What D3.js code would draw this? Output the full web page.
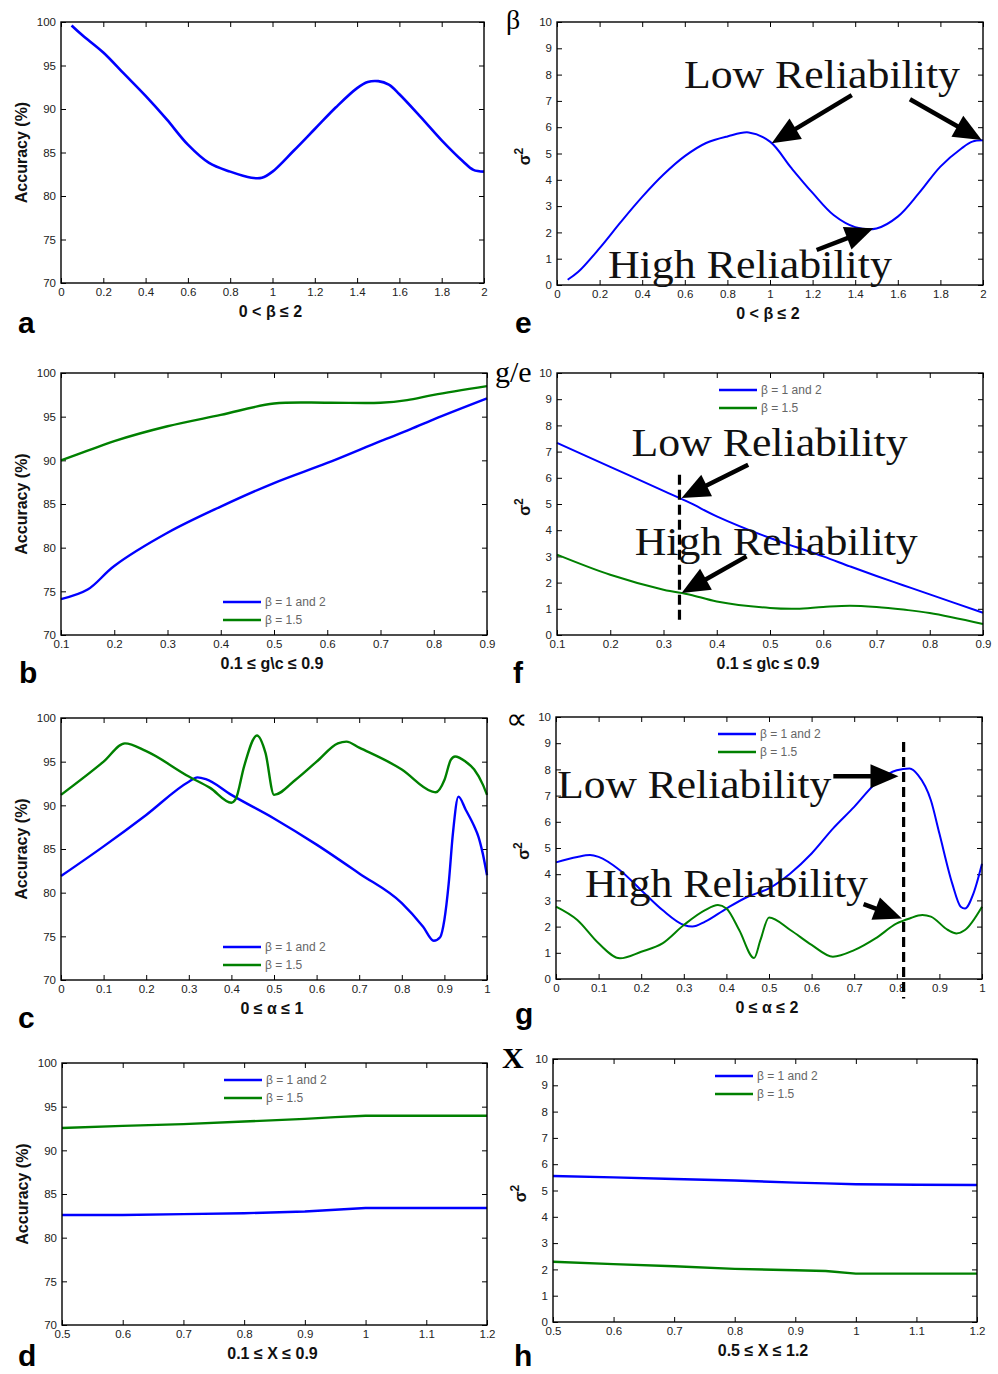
<!DOCTYPE html>
<html>
<head>
<meta charset="utf-8">
<script src="https://cdn.jsdelivr.net/npm/d3@7"></script>
<style>
  body { margin: 0; background: #fff; }
  .axis text { font-family: "Liberation Sans", Arial, sans-serif; font-size: 11.5px; fill: #222; }
  .axis line { stroke: #000; stroke-width: 1; }
  .axis_label { font-family: "Liberation Sans", Arial, sans-serif; font-weight: bold; font-size: 16px; fill: #111; }
  .panel_letter { font-family: "Liberation Sans", Arial, sans-serif; font-weight: bold; font-size: 30px; fill: #000; }
  .note { font-family: "Liberation Serif", "Times New Roman", serif; font-size: 40px; fill: #111; }
  .legend_label { font-family: "Liberation Sans", Arial, sans-serif; font-size: 12px; fill: #666; }
  .corner { font-family: "Liberation Serif", "Times New Roman", serif; fill: #000; }
</style>
</head>
<body>
<div id="chart"></div>
<script>
var width = 998;
var height = 1374;
var blue = "#0000ff";
var green = "#008000";

// tick values
var accTicks = [70, 75, 80, 85, 90, 95, 100];
var sigTicks = [0, 1, 2, 3, 4, 5, 6, 7, 8, 9, 10];
var betaTicks = [0, 0.2, 0.4, 0.6, 0.8, 1, 1.2, 1.4, 1.6, 1.8, 2];
var gcTicks = [0.1, 0.2, 0.3, 0.4, 0.5, 0.6, 0.7, 0.8, 0.9];
var alphaTicks = [0, 0.1, 0.2, 0.3, 0.4, 0.5, 0.6, 0.7, 0.8, 0.9, 1];
var xxTicks = [0.5, 0.6, 0.7, 0.8, 0.9, 1, 1.1, 1.2];

var legendNames = ["\u03b2 = 1 and 2", "\u03b2 = 1.5"];

// a : accuracy vs beta
var aX = [0.05, 0.1, 0.2, 0.3, 0.4, 0.5, 0.6, 0.7, 0.8, 0.9, 0.95, 1.0, 1.1, 1.2, 1.3, 1.4, 1.45, 1.5, 1.55, 1.6, 1.7, 1.8, 1.9, 1.95, 2.0];
var aBlue = [99.6, 98.5, 96.5, 94.0, 91.5, 88.8, 85.9, 83.8, 82.8, 82.1, 82.1, 82.8, 85.2, 87.7, 90.2, 92.4, 93.1, 93.2, 92.8, 91.7, 89.1, 86.4, 84.0, 83.0, 82.8];

// e : variance vs beta
var eX = [0.05, 0.1, 0.2, 0.3, 0.4, 0.5, 0.6, 0.7, 0.8, 0.9, 1.0, 1.1, 1.2, 1.3, 1.4, 1.5, 1.6, 1.7, 1.8, 1.9, 1.95, 2.0];
var eBlue = [0.2, 0.5, 1.4, 2.4, 3.35, 4.2, 4.9, 5.4, 5.65, 5.8, 5.45, 4.45, 3.5, 2.65, 2.2, 2.15, 2.6, 3.5, 4.5, 5.2, 5.45, 5.5];

// b : accuracy vs g\c
var bX = [0.1, 0.15, 0.2, 0.3, 0.4, 0.5, 0.6, 0.7, 0.75, 0.8, 0.9];
var bBlue = [74.1, 75.2, 77.9, 81.7, 84.7, 87.4, 89.7, 92.2, 93.4, 94.7, 97.1];
var bGreen = [90.0, 91.1, 92.2, 93.9, 95.2, 96.5, 96.6, 96.6, 96.9, 97.5, 98.5];

// f : variance vs g\c
var fX = [0.1, 0.2, 0.3, 0.35, 0.4, 0.5, 0.55, 0.6, 0.65, 0.7, 0.75, 0.8, 0.9];
var fBlue = [7.33, 6.42, 5.5, 5.04, 4.53, 3.7, 3.35, 3.0, 2.62, 2.25, 1.9, 1.55, 0.85];
var fGreen = [3.07, 2.3, 1.73, 1.54, 1.28, 1.03, 1.0, 1.07, 1.12, 1.07, 0.97, 0.84, 0.42];

// c : accuracy vs alpha
var cBlueX = [0, 0.1, 0.2, 0.3, 0.32, 0.34, 0.4, 0.5, 0.6, 0.7, 0.8, 0.85, 0.875, 0.89, 0.9, 0.91, 0.92, 0.933, 0.95, 0.97, 0.98, 0.99, 1.0];
var cBlue = [81.9, 85.3, 88.9, 92.7, 93.2, 93.0, 91.2, 88.5, 85.5, 82.2, 78.8, 76.1, 74.5, 74.9, 76.9, 81.0, 86.8, 91.0, 89.5, 87.6, 86.4, 84.5, 82.0];
var cGreenX = [0, 0.1, 0.15, 0.2, 0.3, 0.35, 0.4, 0.41, 0.43, 0.46, 0.48, 0.5, 0.55, 0.6, 0.65, 0.67, 0.7, 0.8, 0.87, 0.88, 0.9, 0.915, 0.925, 0.95, 0.97, 0.99, 1.0];
var cGreen = [91.2, 95.0, 97.1, 96.2, 93.3, 92.0, 90.3, 90.7, 94.5, 98.0, 96.0, 91.2, 92.9, 95.0, 97.1, 97.3, 96.6, 94.1, 91.6, 91.5, 92.9, 95.2, 95.6, 95.0, 94.1, 92.4, 91.2];

// g : variance vs alpha
var gBlueX = [0, 0.05, 0.08, 0.1, 0.15, 0.2, 0.25, 0.3, 0.32, 0.35, 0.4, 0.45, 0.5, 0.55, 0.6, 0.65, 0.7, 0.75, 0.8, 0.83, 0.85, 0.88, 0.9, 0.93, 0.95, 0.96, 0.98, 1.0];
var gBlue = [4.45, 4.66, 4.73, 4.66, 4.15, 3.39, 2.63, 2.06, 2.0, 2.19, 2.69, 3.14, 3.46, 4.03, 4.79, 5.74, 6.57, 7.46, 7.97, 8.03, 7.78, 6.82, 5.55, 3.65, 2.76, 2.69, 3.27, 4.4];
var gGreenX = [0, 0.05, 0.1, 0.15, 0.2, 0.25, 0.3, 0.35, 0.38, 0.4, 0.43, 0.465, 0.48, 0.5, 0.55, 0.6, 0.65, 0.7, 0.75, 0.8, 0.83, 0.86, 0.88, 0.92, 0.94, 0.96, 1.0];
var gGreen = [2.76, 2.25, 1.36, 0.79, 1.04, 1.36, 2.06, 2.63, 2.82, 2.69, 1.87, 0.8, 1.49, 2.35, 1.87, 1.30, 0.85, 1.1, 1.55, 2.12, 2.31, 2.44, 2.38, 1.87, 1.74, 1.87, 2.76];

// d : accuracy vs X
var dX = [0.5, 0.6, 0.7, 0.8, 0.9, 0.95, 1.0, 1.1, 1.2];
var dBlue = [82.6, 82.6, 82.7, 82.8, 83.0, 83.2, 83.4, 83.4, 83.4];
var dGreen = [92.55, 92.8, 93.0, 93.3, 93.6, 93.8, 93.96, 93.96, 93.96];

// h : variance vs X
var hBlue = [5.55, 5.5, 5.44, 5.38, 5.30, 5.27, 5.24, 5.22, 5.21];
var hGreen = [2.29, 2.2, 2.12, 2.02, 1.97, 1.94, 1.84, 1.84, 1.84];

var svg = d3.select("#chart")
            .append("svg")
            .attr("width", width)
            .attr("height", height)
            .style("background", "#fff");

var fmt = d3.format("~g");

//Draw one panel, returns its scales
function createPanel(p) {
  var xScale = d3.scaleLinear().domain(p.xDomain).range([p.box[0], p.box[2]]);
  var yScale = d3.scaleLinear().domain(p.yDomain).range([p.box[3], p.box[1]]);
  var g = svg.append("g");

  //Axes, ticks inside on all four sides
  g.append("g").attr("class", "axis")
    .attr("transform", "translate(0," + p.box[3] + ")")
    .call(d3.axisBottom(xScale).tickValues(p.xTicks).tickSize(-5).tickPadding(5).tickFormat(fmt));
  g.append("g").attr("class", "axis")
    .attr("transform", "translate(0," + p.box[1] + ")")
    .call(d3.axisTop(xScale).tickValues(p.xTicks).tickSize(-5).tickFormat(""));
  g.append("g").attr("class", "axis")
    .attr("transform", "translate(" + p.box[0] + ",0)")
    .call(d3.axisLeft(yScale).tickValues(p.yTicks).tickSize(-5).tickPadding(5).tickFormat(fmt));
  g.append("g").attr("class", "axis")
    .attr("transform", "translate(" + p.box[2] + ",0)")
    .call(d3.axisRight(yScale).tickValues(p.yTicks).tickSize(-5).tickFormat(""));
  g.selectAll(".domain").remove();

  //Lines
  var line = d3.line()
               .x(function(d) { return xScale(d[0]); })
               .y(function(d) { return yScale(d[1]); })
               .curve(p.curve);
  p.series.forEach(function(s) {
    g.append("path")
     .datum(d3.zip(s.x, s.y))
     .attr("d", line)
     .attr("fill", "none")
     .attr("stroke", s.color)
     .attr("stroke-width", p.lw)
     .attr("stroke-linejoin", "round");
  });

  //Frame
  g.append("rect")
   .attr("x", p.box[0]).attr("y", p.box[1])
   .attr("width", p.box[2] - p.box[0]).attr("height", p.box[3] - p.box[1])
   .attr("fill", "none").attr("stroke", "#000").attr("stroke-width", 1.4);

  //X label
  g.append("text")
   .attr("class", "axis_label")
   .attr("x", (p.box[0] + p.box[2]) / 2 - 2)
   .attr("y", p.box[3] + 34)
   .attr("text-anchor", "middle")
   .text(p.xlab);

  //Y label
  var cy = (p.box[1] + p.box[3]) / 2;
  if (p.ylab == "acc") {
    g.append("text")
     .attr("class", "axis_label")
     .attr("transform", "translate(" + (p.box[0] - 34) + "," + cy + ") rotate(-90)")
     .attr("text-anchor", "middle")
     .text("Accuracy (%)");
  } else {
    var t = g.append("text")
     .attr("class", "axis_label")
     .attr("transform", "translate(" + (p.box[0] - 27) + "," + (cy + 3) + ") rotate(-90)")
     .attr("text-anchor", "middle");
    t.append("tspan").text("\u03c3");
    t.append("tspan").attr("dy", "-0.55em").attr("font-size", "12px").text("2");
  }

  //Legend
  if (p.legend) {
    var lx = p.box[0] + 162;
    var ly = p.legend == "top" ? p.box[1] + 17 : p.box[1] + 229;
    p.series.forEach(function(s, i) {
      g.append("line")
       .attr("x1", lx).attr("x2", lx + 38)
       .attr("y1", ly + i * 18).attr("y2", ly + i * 18)
       .attr("stroke", s.color).attr("stroke-width", 2.5);
      g.append("text")
       .attr("class", "legend_label")
       .attr("x", lx + 42).attr("y", ly + i * 18 + 4)
       .text(legendNames[i]);
    });
  }

  //Panel letter
  g.append("text")
   .attr("class", "panel_letter")
   .attr("x", p.letter[1]).attr("y", p.letter[2])
   .text(p.letter[0]);

  return {x: xScale, y: yScale, g: g};
}

function drawArrow(g, x1, y1, x2, y2) {
  var dx = x2 - x1, dy = y2 - y1;
  var len = Math.sqrt(dx * dx + dy * dy);
  var ux = dx / len, uy = dy / len;
  var headL = 28, headW = 12;
  var bx = x2 - ux * headL, by = y2 - uy * headL;
  g.append("line")
   .attr("x1", x1).attr("y1", y1)
   .attr("x2", bx + ux * 3).attr("y2", by + uy * 3)
   .attr("stroke", "#000").attr("stroke-width", 4.5);
  g.append("path")
   .attr("d", "M" + x2 + "," + y2 +
              "L" + (bx - uy * headW) + "," + (by + ux * headW) +
              "L" + (bx + uy * headW) + "," + (by - ux * headW) + "Z")
   .attr("fill", "#000");
}

//Annotations in data units
function annotate(panel, notes, arrows, dashed) {
  var g = panel.g, x = panel.x, y = panel.y;
  if (dashed) {
    g.append("line")
     .attr("x1", x(dashed[0])).attr("x2", x(dashed[0]))
     .attr("y1", y(dashed[1])).attr("y2", y(dashed[2]))
     .attr("stroke", "#000").attr("stroke-width", 3.2)
     .attr("stroke-dasharray", "10,5");
  }
  notes.forEach(function(n) {
    g.append("text")
     .attr("class", "note")
     .attr("x", x(n[1])).attr("y", y(n[2]))
     .attr("textLength", n[3])
     .attr("lengthAdjust", "spacingAndGlyphs")
     .text(n[0]);
  });
  arrows.forEach(function(a) {
    drawArrow(g, x(a[0]), y(a[1]), x(a[2]), y(a[3]));
  });
}

var smooth = d3.curveCatmullRom.alpha(0.5);
var sharp = d3.curveMonotoneX;

var pa = createPanel({box: [61, 22, 484, 283], xDomain: [0, 2], xTicks: betaTicks, yDomain: [70, 100], yTicks: accTicks,
  ylab: "acc", xlab: "0 < \u03b2 \u2264 2", curve: smooth, lw: 2.6, legend: null, letter: ["a", 18, 333],
  series: [{x: aX, y: aBlue, color: blue}]});

var pe = createPanel({box: [557, 22, 983, 285], xDomain: [0, 2], xTicks: betaTicks, yDomain: [0, 10], yTicks: sigTicks,
  ylab: "sig", xlab: "0 < \u03b2 \u2264 2", curve: smooth, lw: 2, legend: null, letter: ["e", 515, 333],
  series: [{x: eX, y: eBlue, color: blue}]});

var pb = createPanel({box: [61, 373, 487, 635], xDomain: [0.1, 0.9], xTicks: gcTicks, yDomain: [70, 100], yTicks: accTicks,
  ylab: "acc", xlab: "0.1 \u2264 g\\c \u2264 0.9", curve: smooth, lw: 2.4, legend: "bottom", letter: ["b", 19, 683],
  series: [{x: bX, y: bBlue, color: blue}, {x: bX, y: bGreen, color: green}]});

var pf = createPanel({box: [557, 373, 983, 635], xDomain: [0.1, 0.9], xTicks: gcTicks, yDomain: [0, 10], yTicks: sigTicks,
  ylab: "sig", xlab: "0.1 \u2264 g\\c \u2264 0.9", curve: smooth, lw: 2, legend: "top", letter: ["f", 513, 683],
  series: [{x: fX, y: fBlue, color: blue}, {x: fX, y: fGreen, color: green}]});

var pc = createPanel({box: [61, 718, 487, 980], xDomain: [0, 1], xTicks: alphaTicks, yDomain: [70, 100], yTicks: accTicks,
  ylab: "acc", xlab: "0 \u2264 \u03b1 \u2264 1", curve: sharp, lw: 2.4, legend: "bottom", letter: ["c", 18, 1028],
  series: [{x: cBlueX, y: cBlue, color: blue}, {x: cGreenX, y: cGreen, color: green}]});

var pg = createPanel({box: [556, 717, 982, 979], xDomain: [0, 1], xTicks: alphaTicks, yDomain: [0, 10], yTicks: sigTicks,
  ylab: "sig", xlab: "0 \u2264 \u03b1 \u2264 2", curve: sharp, lw: 2, legend: "top", letter: ["g", 515, 1024],
  series: [{x: gBlueX, y: gBlue, color: blue}, {x: gGreenX, y: gGreen, color: green}]});

var pd = createPanel({box: [62, 1063, 487, 1325], xDomain: [0.5, 1.2], xTicks: xxTicks, yDomain: [70, 100], yTicks: accTicks,
  ylab: "acc", xlab: "0.1 \u2264 X \u2264 0.9", curve: d3.curveLinear, lw: 2.4, legend: "top", letter: ["d", 18, 1366],
  series: [{x: dX, y: dBlue, color: blue}, {x: dX, y: dGreen, color: green}]});

var ph = createPanel({box: [553, 1059, 977, 1322], xDomain: [0.5, 1.2], xTicks: xxTicks, yDomain: [0, 10], yTicks: sigTicks,
  ylab: "sig", xlab: "0.5 \u2264 X \u2264 1.2", curve: d3.curveLinear, lw: 2.4, legend: "top", letter: ["h", 514, 1366],
  series: [{x: dX, y: hBlue, color: blue}, {x: dX, y: hGreen, color: green}]});

//Reliability notes: [text, x, y, width px], arrows: [x1, y1, x2, y2]
annotate(pe,
  [["Low Reliability", 0.596, 7.49, 276], ["High Reliability", 0.239, 0.27, 284]],
  [[1.384, 7.22, 1.008, 5.39], [1.657, 7.06, 1.994, 5.51], [1.219, 1.33, 1.485, 2.16]],
  null);

annotate(pf,
  [["Low Reliability", 0.240, 6.82, 276], ["High Reliability", 0.246, 3.06, 283]],
  [[0.459, 6.5, 0.334, 5.23], [0.456, 3.0, 0.334, 1.6]],
  [0.33, 6.12, 0.52]);

annotate(pg,
  [["Low Reliability", 0.003, 6.89, 274], ["High Reliability", 0.068, 3.14, 283]],
  [[0.651, 7.74, 0.804, 7.74], [0.722, 2.86, 0.812, 2.31]],
  [0.816, 9.05, -0.74]);

//Corner symbols of the right column
var corners = [["\u03b2", 506, 29, 28, "normal"], ["g/e", 495, 382, 30, "normal"],
               ["\u221d", 506, 729, 30, "normal"], ["X", 502, 1068, 30, "bold"]];
svg.selectAll(".corner")
   .data(corners)
   .enter().append("text")
   .attr("class", "corner")
   .attr("x", function(d) { return d[1]; })
   .attr("y", function(d) { return d[2]; })
   .attr("font-size", function(d) { return d[3] + "px"; })
   .attr("font-weight", function(d) { return d[4]; })
   .text(function(d) { return d[0]; });
</script>
</body>
</html>
